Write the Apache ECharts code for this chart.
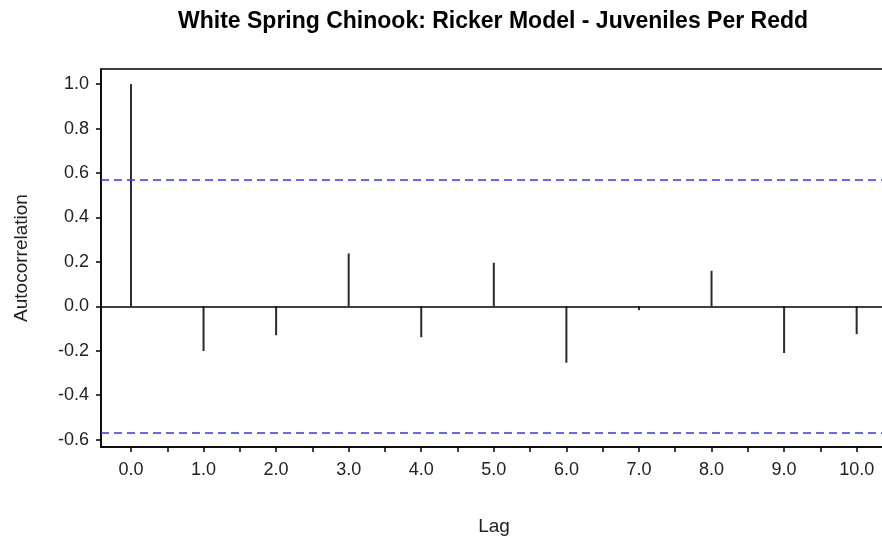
<!DOCTYPE html>
<html>
<head>
<meta charset="utf-8">
<script src="https://cdn.jsdelivr.net/npm/echarts@6/dist/echarts.min.js"></script>
<style>
html,body{margin:0;padding:0;background:#fff;overflow:hidden;}
#c{width:882px;height:541px;}
</style>
</head>
<body>
<div id="c"></div>
<script>
const lags = [0,1,2,3,4,5,6,7,8,9,10];
const acf = [1.0,-0.201,-0.130,0.238,-0.139,0.196,-0.254,-0.017,0.160,-0.210,-0.125];
const confLimit = 0.567;
const yTicks = [-0.6,-0.4,-0.2,0.0,0.2,0.4,0.6,0.8,1.0];
const xLabelTicks = [0,1,2,3,4,5,6,7,8,9,10];
const xMinorTicks = [0,0.5,1,1.5,2,2.5,3,3.5,4,4.5,5,5.5,6,6.5,7,7.5,8,8.5,9,9.5,10];

const FONT = '"Liberation Sans", Arial, sans-serif';
const chart = echarts.init(document.getElementById('c'));
chart.setOption({
  animation:false,
  backgroundColor:'#fff',
  title:{
    text:'White Spring Chinook: Ricker Model - Juveniles Per Redd',
    left:173, top:5,
    textStyle:{fontFamily:FONT,fontSize:23,fontWeight:'bold',color:'#000'}
  },
  grid:{left:101,top:69,width:786,height:378,outerBoundsMode:'none',containLabel:false,show:true,borderColor:'#000',borderWidth:1.5,backgroundColor:'transparent'},
  xAxis:{
    type:'value',min:-0.413,max:10.418,
    name:'Lag',nameLocation:'middle',nameGap:70,
    nameTextStyle:{fontFamily:FONT,fontSize:19,color:'#222'},
    axisLine:{show:true,onZero:false,lineStyle:{color:'#000',width:1.5}},
    axisTick:{show:true,length:5,customValues:xMinorTicks,lineStyle:{color:'#000',width:1.5}},
    axisLabel:{customValues:xLabelTicks,margin:14,fontFamily:FONT,fontSize:18,color:'#222',formatter:v=>Number(v).toFixed(1)},
    splitLine:{show:false}
  },
  yAxis:{
    type:'value',min:-0.633,max:1.068,
    name:'Autocorrelation',nameLocation:'middle',nameGap:70,
    nameTextStyle:{fontFamily:FONT,fontSize:19,color:'#222'},
    axisLine:{show:true,onZero:false,lineStyle:{color:'#000',width:1.5}},
    axisTick:{show:true,length:5,customValues:yTicks,lineStyle:{color:'#000',width:1.5}},
    axisLabel:{customValues:yTicks,margin:12,fontFamily:FONT,fontSize:18,color:'#222',formatter:v=>Number(v).toFixed(1)},
    splitLine:{show:false}
  },
  series:[{
    type:'bar',
    data:lags.map((l,i)=>[l,acf[i]]),
    barWidth:2,
    itemStyle:{color:'#2a2a2a'},
    markLine:{
      symbol:'none',silent:true,
      label:{show:false},
      data:[
        {yAxis:0,lineStyle:{color:'#000',width:1.5,type:'solid'}},
        {yAxis:confLimit,lineStyle:{color:'#3333ff',width:1.5,type:[8,5]}},
        {yAxis:-confLimit,lineStyle:{color:'#3333ff',width:1.5,type:[8,5]}}
      ]
    }
  }]
});
</script>
</body>
</html>
